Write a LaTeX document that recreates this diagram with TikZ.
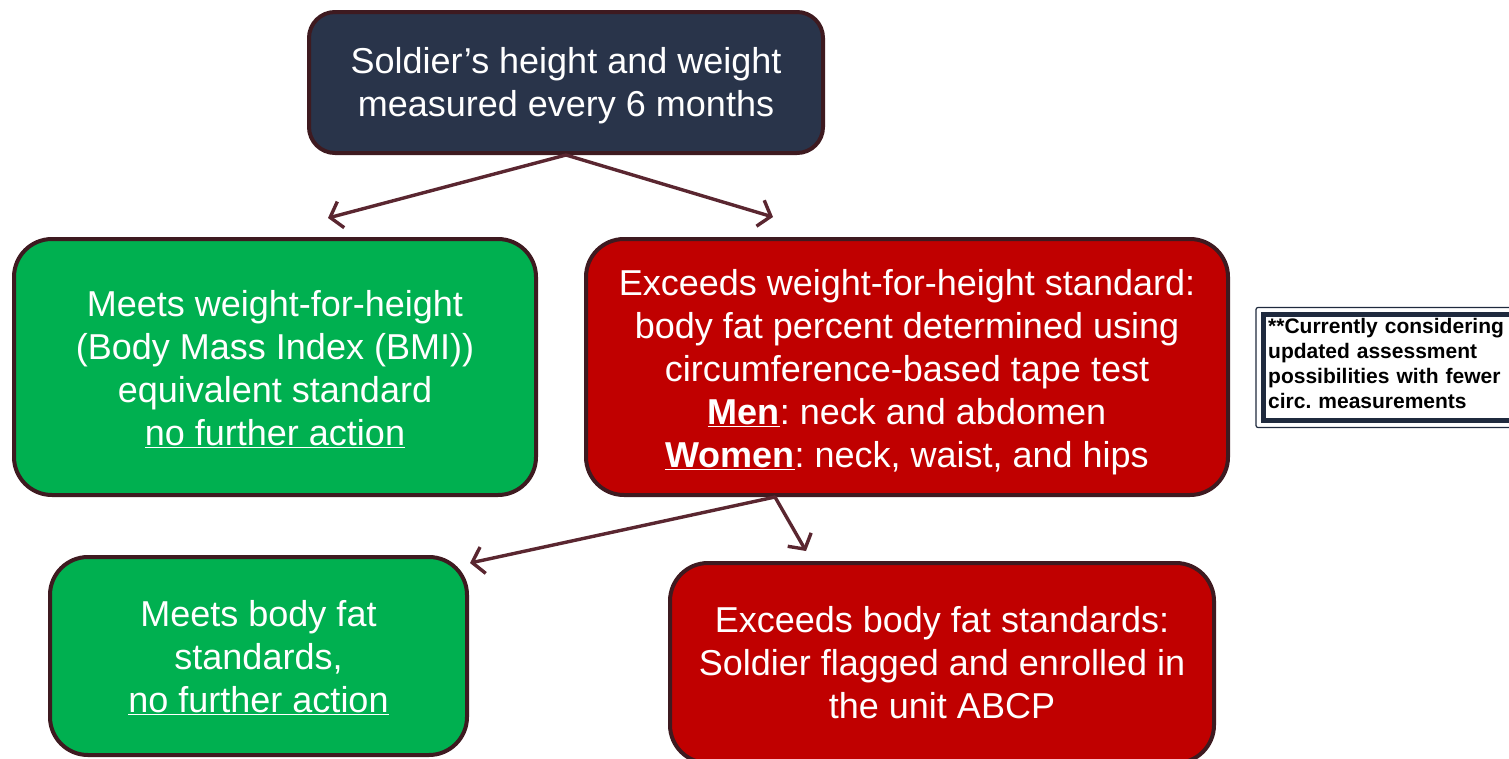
\documentclass[tikz,border=0pt]{standalone}
\usepackage{fontspec}
\setmainfont{Liberation Sans}
\usetikzlibrary{arrows.meta,calc}
\definecolor{navy}{HTML}{29344A}
\definecolor{okgreen}{HTML}{00B050}
\definecolor{badred}{HTML}{C00000}
\definecolor{bord}{HTML}{3E1A20}
\definecolor{arrowc}{HTML}{5A2630}
\definecolor{notenavy}{HTML}{1F2A3E}
\begin{document}
\frenchspacing
\begin{tikzpicture}[x=1pt,y=-1pt,
  box/.style={draw=bord, line width=4pt, rounded corners=38pt, inner sep=0pt},
  txt/.style={text=white, align=center, inner sep=0pt,
    font=\fontsize{36}{43}\selectfont\frenchspacing},
  conn/.style={draw=arrowc, line width=3.4pt, line cap=round,
    -{Straight Barb[length=11pt,width=27pt,line width=3.4pt]}},
  noteframe/.style={draw=notenavy, line width=5pt, minimum width=252pt, minimum height=106pt,
    anchor=west, inner sep=0pt},
  notetxt/.style={align=left, text width=240pt, inner sep=0pt, anchor=west,
    font=\fontsize{21}{25}\selectfont\bfseries\frenchspacing}]
\useasboundingbox (0,0) rectangle (1509,758);
\clip (0,0) rectangle (1509,758);

\node[box, fill=navy, rounded corners=26pt, minimum width=514pt, minimum height=141pt]
  (top) at (566,82.5) {};
\node[txt] (toptxt) at ($(top.center)+(0,3.5)$) {Soldier’s height and weight\\measured every 6 months};

\node[box, fill=okgreen, minimum width=522pt, minimum height=256pt]
  (meets) at (275,367) {};
\node[txt] (meetstxt) at ($(meets.center)+(0,2)$) {Meets weight-for-height\\(Body Mass Index (BMI))\\equivalent standard\\\underline{no further action}};

\node[box, fill=badred, minimum width=642pt, minimum height=256pt]
  (exceeds) at (907,367) {};
\node[txt] (exceedstxt) at ($(exceeds.center)+(0,5)$) {Exceeds weight-for-height standard:\\body fat percent determined using\\circumference-based tape test\\\underline{\textbf{Men}}: neck and abdomen\\\underline{\textbf{Women}}: neck, waist, and hips};

\node[box, fill=okgreen, minimum width=417pt, minimum height=198pt]
  (meetsbf) at (258.5,656) {};
\node[txt] (meetsbftxt) at ($(meetsbf.center)+(0,2)$) {Meets body fat\\standards,\\\underline{no further action}};

\node[box, fill=badred, minimum width=544pt, minimum height=200pt]
  (exceedsbf) at (942,663) {};
\node[txt] (exceedsbftxt) at (exceedsbf.center) {Exceeds body fat standards:\\Soldier flagged and enrolled in\\the unit ABCP};

\node[noteframe] (note) at (1260.5,367.5) {};
\draw[draw=notenavy, line width=1.2pt, rounded corners=2pt]
  ($(note.north west)+(-4.5,-4.5)$) rectangle ($(note.south east)+(4.5,4.5)$);
\node[notetxt] (notetxt) at (1268,363) {**Currently considering\\updated assessment\\possibilities with fewer\\circ. measurements};

\coordinate (e1) at (328,218);
\coordinate (e2) at (773,217);
\coordinate (e3) at (470,563);
\coordinate (e4) at (806,551);
\coordinate (rs) at ([xshift=191pt]exceeds.south west);

\draw[conn] (top.south) -- (e1);
\draw[conn] (top.south) -- (e2);
\draw[conn] (rs) -- (e3);
\draw[conn] (rs) -- (e4);
\end{tikzpicture}
\end{document}
